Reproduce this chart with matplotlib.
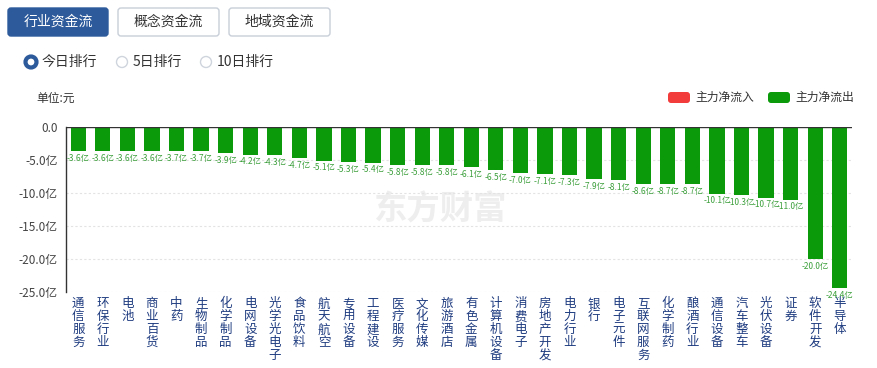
import matplotlib
matplotlib.use("Agg")
import matplotlib.pyplot as plt
from matplotlib.patches import FancyBboxPatch, Circle

plt.rcParams['font.family'] = ['Noto Sans CJK SC', 'DejaVu Sans']

categories = ["通信服务", "环保行业", "电池", "商业百货", "中药", "生物制品", "化学制品", "电网设备",
              "光学光电子", "食品饮料", "航天航空", "专用设备", "工程建设", "医疗服务", "文化传媒", "旅游酒店",
              "有色金属", "计算机设备", "消费电子", "房地产开发", "电力行业", "银行", "电子元件", "互联网服务",
              "化学制药", "酿酒行业", "通信设备", "汽车整车", "光伏设备", "证券", "软件开发", "半导体"]
values = [-3.6, -3.6, -3.6, -3.6, -3.7, -3.7, -3.9, -4.2, -4.3, -4.7, -5.1, -5.3, -5.4, -5.8, -5.8, -5.8,
          -6.1, -6.5, -7.0, -7.1, -7.3, -7.9, -8.1, -8.6, -8.7, -8.7, -10.1, -10.3, -10.7, -11.0, -20.0, -24.4]
yticks = [0, -5, -10, -15, -20, -25]
ytick_labels = ["0.0", "-5.0亿", "-10.0亿", "-15.0亿", "-20.0亿", "-25.0亿"]

W, H = 877, 368
green = "#0a9a0a"
label_green = "#3c9f3c"
blue = "#2d5a9b"
dark_blue = "#1f3c80"

fig = plt.figure(figsize=(W / 100, H / 100), dpi=100)
fig.patch.set_facecolor("white")

# overlay in pixel coordinates for the page furniture
ov = fig.add_axes([0, 0, 1, 1])
ov.set_xlim(0, W)
ov.set_ylim(H, 0)
ov.axis("off")

# watermark
ov.text(440, 210, "东方财富", fontsize=24, fontweight="bold", color="#eeeeee",
        ha="center", va="center", zorder=0)

# main chart
ax = fig.add_axes([66 / W, (H - 292) / H, 786 / W, 165 / H])
ax.patch.set_alpha(0)
x = list(range(len(categories)))
ax.bar(x, values, width=0.62, color=green, zorder=3)
for xi, v in zip(x, values):
    ax.annotate(f"{v:.1f}亿", (xi, v), xytext=(0, -2), textcoords="offset points",
                ha="center", va="top", fontsize=6, color=label_green, zorder=4)

ax.set_xlim(-0.5, len(categories) - 0.5)
ax.set_ylim(-25, 0)
ax.set_yticks(yticks)
ax.set_yticklabels(ytick_labels, fontsize=8.5, color="#444444")
ax.tick_params(axis="y", length=0, pad=6)
ax.set_xticks([])
for yv in yticks[1:]:
    ax.axhline(yv, color="#e3e3e3", linewidth=0.8, linestyle=(0, (2, 2)), zorder=1)
ax.axhline(0, color="#333333", linewidth=1.0, zorder=4)
for s in ["top", "right", "bottom"]:
    ax.spines[s].set_visible(False)
ax.spines["left"].set_color("#333333")
ax.spines["left"].set_linewidth(1.0)

# vertical category labels
for xi, name in zip(x, categories):
    ax.text(xi, -25.8, "\n".join(name), ha="center", va="top", fontsize=9,
            color=dark_blue, linespacing=1.0, clip_on=False)

# tab buttons
tabs = [("行业资金流", 8, 108, True), ("概念资金流", 118, 219, False), ("地域资金流", 229, 330, False)]
for label, x0, x1, active in tabs:
    box = FancyBboxPatch((x0, 8), x1 - x0, 28, boxstyle="round,pad=0,rounding_size=3",
                         facecolor=blue if active else "white",
                         edgecolor=blue if active else "#c8cfd8", linewidth=1)
    ov.add_patch(box)
    ov.text((x0 + x1) / 2, 22, label, ha="center", va="center", fontsize=10,
            color="white" if active else "#333333")

# radio buttons
radios = [("今日排行", 31, True), ("5日排行", 122, False), ("10日排行", 206, False)]
for label, cx, active in radios:
    if active:
        ov.add_patch(Circle((cx, 62), 5.5, facecolor="white", edgecolor=blue, linewidth=3))
    else:
        ov.add_patch(Circle((cx, 62), 5.5, facecolor="white", edgecolor="#cfd5dd", linewidth=1))
    ov.text(cx + 11, 62, label, ha="left", va="center", fontsize=10, color="#333333")

ov.text(36, 98, "单位:元", ha="left", va="center", fontsize=8.5, color="#333333")

# legend
legend = [("主力净流入", 668, "#f23c3c"), ("主力净流出", 768, green)]
for label, lx, col in legend:
    ov.add_patch(FancyBboxPatch((lx, 92), 22, 11, boxstyle="round,pad=0,rounding_size=3",
                                facecolor=col, edgecolor="none"))
    ov.text(lx + 27, 97.5, label, ha="left", va="center", fontsize=8.5, color="#333333")

fig.savefig("out.png", dpi=100, facecolor="white")
